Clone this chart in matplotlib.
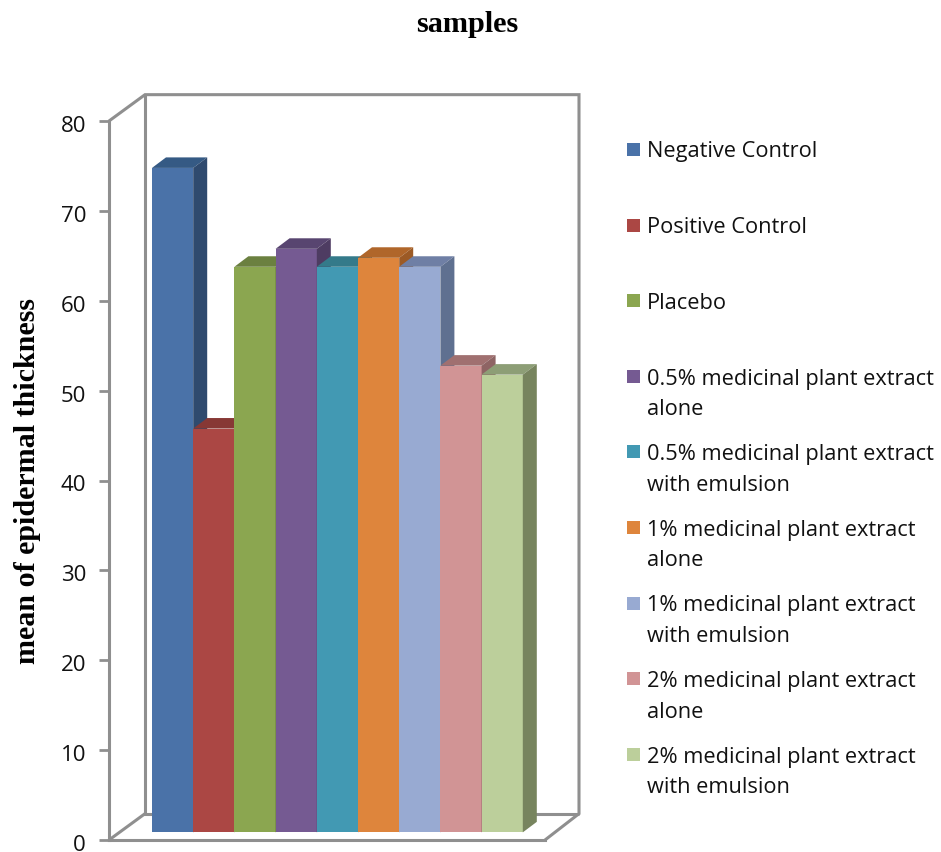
#!/usr/bin/env python3
import numpy as np
import matplotlib
matplotlib.use('Agg')
import matplotlib.pyplot as plt
from matplotlib.patches import Polygon, Rectangle
from matplotlib.transforms import ScaledTranslation

samples = ['Negative Control', 'Positive Control', 'Placebo',
           '0.5% medicinal plant extract\nalone', '0.5% medicinal plant extract\nwith emulsion',
           '1% medicinal plant extract\nalone', '1% medicinal plant extract\nwith emulsion',
           '2% medicinal plant extract\nalone', '2% medicinal plant extract\nwith emulsion']
thickness = [75, 46, 64, 66, 64, 65, 64, 53, 52]
yticks = [0, 10, 20, 30, 40, 50, 60, 70, 80]
front_colors = ['#4a72a8', '#ab4744', '#8ba650', '#755a92', '#4299b3', '#de853c', '#98aad2', '#d19495', '#bccf9b']
top_colors = ['#355a84', '#873835', '#6b8040', '#584570', '#347a8a', '#b0662a', '#6f7fa5', '#a07070', '#8d9e76']
side_colors = ['#2f4a6e', '#753030', '#5f7238', '#4e3c62', '#2e6c7c', '#9c5a25', '#5f7090', '#8e6464', '#77845e']

W, H = 941, 853
BAR = 41.2  # px per category
GREY = '#8f8f8f'
plt.rcParams['font.family'] = ['Open Sans', 'DejaVu Sans']

fig = plt.figure(figsize=(W/100, H/100), dpi=100)
ax = fig.add_axes([109/W, 1-841/H, 436/W, 719/H])
x0, x1 = -43/BAR, (545-152)/BAR
ax.set_xlim(x0, x1)
ax.set_ylim(0, 80)
ax.set_yticks(yticks)
ax.set_xticks([])
ax.tick_params(axis='y', length=7, width=2, color=GREY, labelsize=16, pad=9.5, labelcolor='#111111')
for lab in ax.get_yticklabels():
    lab.set_transform(lab.get_transform() + ScaledTranslation(0, -2/100, fig.dpi_scale_trans))
for s in ['top', 'right']:
    ax.spines[s].set_visible(False)
for s in ['left', 'bottom']:
    ax.spines[s].set_color(GREY); ax.spines[s].set_linewidth(2.2)

# walls and floor of the fake 3d box
dx, dxr, dy = 36/BAR, 34/BAR, 2.93
wall = dict(closed=False, fill=False, edgecolor=GREY, linewidth=2.2, clip_on=False, zorder=1)
ax.add_patch(Polygon([(x0, 80), (x0+dx, 80+dy), (x1+dxr, 80+dy), (x1+dxr, dy), (x1, 0)], **wall))
ax.add_patch(Polygon([(x0+dx, 80+dy), (x0+dx, dy), (x1+dxr, dy)], **wall))
ax.add_patch(Polygon([(x0, 0), (x0+dx, dy)], **wall))

# bars with a sheared top and side, front face starts a bit above the axis zero
base, shift = 0.85, 0.22
bx, by = 14/BAR, 1.17
for i, v in enumerate(thickness):
    top = v - shift
    ax.bar(i, top-base, width=1, bottom=base, align='edge', color=front_colors[i], linewidth=0, zorder=3+i)
    ax.add_patch(Polygon([(i, top), (i+bx, top+by), (i+1+bx, top+by), (i+1, top)],
                         facecolor=top_colors[i], edgecolor='none', clip_on=False, zorder=3+i))
    ax.add_patch(Polygon([(i+1, base), (i+1+bx, base+by), (i+1+bx, top+by), (i+1, top)],
                         facecolor=side_colors[i], edgecolor='none', zorder=3+i))
ax.set_xlim(x0, x1)

# legend by hand, spacing is regular per entry
for i, label in enumerate(samples):
    y = 150.5 + i*75.6
    fig.patches.append(Rectangle((627/W, 1-(y+6.5)/H), 13/W, 13/H, transform=fig.transFigure,
                                 facecolor=front_colors[i], edgecolor='none'))
    baseline = y + 7 + 31*label.count('\n')
    fig.text(647/W, 1-baseline/H, label, fontsize=15.7, color='#111111', va='baseline', linespacing=1.6)

fig.text(467/W, 1-25/H, 'samples', family='Liberation Serif', fontweight='bold', fontsize=21.8,
         ha='center', va='center', color='black')
fig.text(28/W, 1-481/H, 'mean of epidermal thickness', family='Liberation Serif', fontweight='bold',
         fontsize=21.6, rotation=90, ha='center', va='center', color='black')

fig.savefig('out.png', dpi=100)
